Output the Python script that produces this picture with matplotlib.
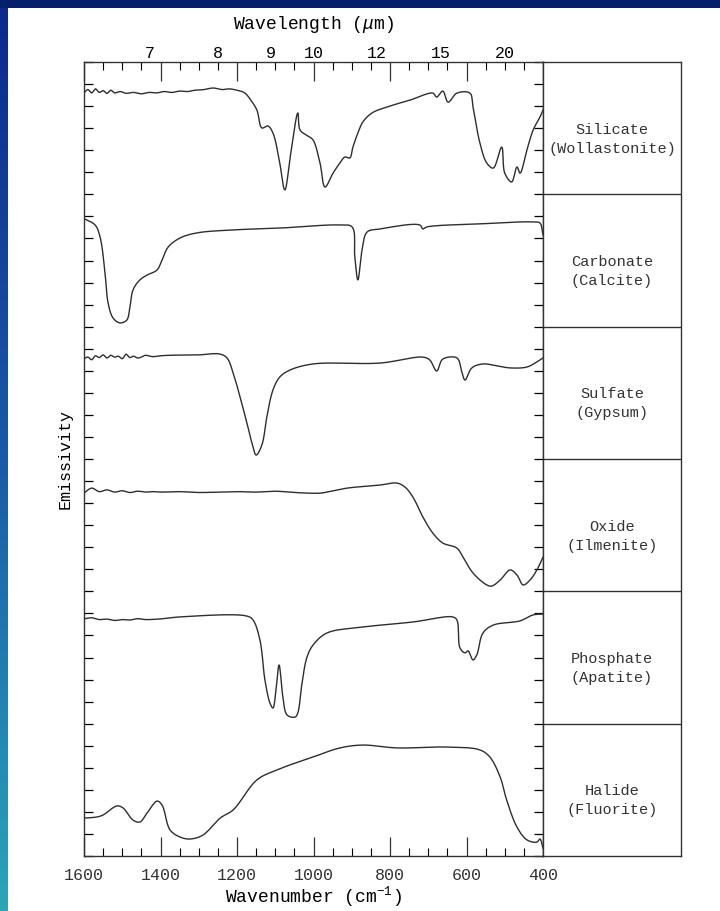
import numpy as np
import matplotlib
matplotlib.use("Agg")
import matplotlib.pyplot as plt
from matplotlib.ticker import MultipleLocator, NullFormatter
from matplotlib.colors import LinearSegmentedColormap
from matplotlib.patches import Rectangle

plt.rcParams['font.family'] = ['Liberation Mono', 'DejaVu Sans']
plt.rcParams['mathtext.fontset'] = 'custom'
plt.rcParams['mathtext.rm'] = 'Liberation Mono'
plt.rcParams['mathtext.it'] = 'Liberation Mono:italic'

# labels of the six panels, top to bottom
minerals = ['Silicate\n(Wollastonite)', 'Carbonate\n(Calcite)', 'Sulfate\n(Gypsum)',
            'Oxide\n(Ilmenite)', 'Phosphate\n(Apatite)', 'Halide\n(Fluorite)']

wavelength_ticks = [7, 8, 9, 10, 12, 15, 20]
wavenumber_ticks = [1600, 1400, 1200, 1000, 800, 600, 400]

# emissivity, in tick units above the panel bottom (0..6)
silicate_wn = [1600, 1590, 1580, 1570, 1560, 1550, 1540, 1530, 1520, 1505, 1490, 1470, 1450,
               1430, 1410, 1390, 1370, 1350, 1330, 1310, 1290, 1262, 1240, 1220, 1200, 1180,
               1165, 1148, 1135, 1119, 1106, 1090, 1075, 1060, 1041, 1035, 1014, 1001, 983,
               970, 949, 931, 918, 905, 897, 884, 871, 847, 808, 748, 688, 678, 662, 648, 625,
               591, 583, 565, 547, 530, 508, 500, 482, 468, 460, 442, 426, 408, 400]
silicate_em = [4.6, 4.75, 4.6, 4.78, 4.62, 4.7, 4.58, 4.72, 4.6, 4.66, 4.58, 4.62, 4.56,
               4.62, 4.6, 4.66, 4.62, 4.68, 4.66, 4.72, 4.74, 4.82, 4.75, 4.78, 4.72, 4.6,
               4.3, 3.82, 3.01, 3.10, 2.78, 1.6, 0.20, 1.8, 3.69, 2.91, 2.64, 2.46, 1.42,
               0.33, 0.96, 1.42, 1.69, 1.65, 2.14, 2.78, 3.28, 3.69, 3.96, 4.27, 4.59, 4.41, 4.68, 4.18, 4.59,
               4.59, 3.96, 2.33, 1.42, 1.19, 2.14, 0.96, 0.56, 1.24, 0.96, 2.01, 2.91, 3.50, 3.82]

carbonate_wn = [1600, 1571, 1558, 1545, 1537, 1524, 1506, 1488, 1480, 1472, 1454, 1435, 1409,
                1396, 1380, 1349, 1305, 1218, 1088, 931, 899, 892, 884, 873, 860, 826, 722,
                714, 704, 565, 426, 408, 400]
carbonate_em = [4.9, 4.61, 4.07, 2.43, 1.07, 0.39, 0.17, 0.30, 0.89, 1.66, 2.12, 2.34, 2.57,
                3.02, 3.61, 4.02, 4.25, 4.38, 4.47, 4.61, 4.52, 3.16, 2.12, 3.48, 4.29, 4.43, 4.61,
                4.43, 4.52, 4.66, 4.75, 4.70, 4.16]

sulfate_wn = [1600, 1590, 1580, 1570, 1560, 1550, 1540, 1530, 1520, 1510, 1500, 1490, 1480,
              1470, 1460, 1450, 1440, 1420, 1400, 1380, 1350, 1300, 1245, 1226, 1210, 1192,
              1174, 1161, 1150, 1135, 1122, 1106, 1088, 1062, 1001, 826, 714, 696, 678, 662,
              625, 612, 604, 586, 557, 520, 486, 442, 416, 400]
sulfate_em = [4.55, 4.62, 4.5, 4.68, 4.6, 4.72, 4.58, 4.7, 4.62, 4.66, 4.55, 4.75, 4.6,
              4.66, 4.58, 4.62, 4.7, 4.64, 4.68, 4.7, 4.71, 4.72, 4.76, 4.58, 3.90, 2.81,
              1.63, 0.73, 0.18, 0.63, 1.90, 3.13, 3.72, 4.03, 4.31, 4.35, 4.62, 4.49, 3.99, 4.53,
              4.58, 3.94, 3.58, 4.13, 4.31, 4.22, 4.13, 4.17, 4.40, 4.58]

oxide_wn = [1600, 1580, 1560, 1540, 1520, 1500, 1480, 1460, 1440, 1420, 1400, 1350, 1300,
            1250, 1200, 1150, 1100, 1050, 983, 965, 912, 826, 782, 761, 740, 714, 688, 662,
            625, 609, 583, 547, 534, 512, 486, 468, 452, 434, 416, 400]
oxide_em = [4.46, 4.68, 4.52, 4.6, 4.5, 4.56, 4.48, 4.54, 4.5, 4.52, 4.5, 4.52, 4.48,
            4.5, 4.52, 4.5, 4.54, 4.48, 4.45, 4.50, 4.68, 4.82, 4.91, 4.73, 4.27, 3.37, 2.64, 2.19,
            1.96, 1.55, 0.83, 0.29, 0.24, 0.51, 0.97, 0.74, 0.29, 0.51, 0.97, 1.55]

phosphate_wn = [1600, 1580, 1560, 1540, 1520, 1500, 1480, 1460, 1440, 1400, 1349, 1174, 1158,
                1140, 1127, 1114, 1106, 1098, 1090, 1080, 1069, 1048, 1041, 1030, 1017, 1001,
                965, 871, 740, 636, 625, 617, 604, 596, 583, 573, 557, 530, 460, 426, 400]
phosphate_em = [4.75, 4.8, 4.72, 4.74, 4.68, 4.72, 4.7, 4.76, 4.72, 4.75, 4.84, 4.88, 4.70,
                3.79, 1.98, 0.94, 0.71, 1.53, 2.66, 1.21, 0.39, 0.30, 0.49, 1.84, 3.02, 3.57,
                4.11, 4.38, 4.61, 4.84, 4.70, 3.43, 3.21, 3.30, 2.89, 3.12, 4.11, 4.47, 4.66, 4.93, 4.97]

halide_wn = [1600, 1566, 1550, 1514, 1498, 1472, 1454, 1435, 1409, 1396, 1375, 1349, 1323,
             1289, 1244, 1210, 1148, 1096, 1001, 931, 871, 782, 651, 565, 539, 512, 495, 468,
             442, 416, 408, 400]
halide_em = [1.72, 1.77, 1.86, 2.27, 2.18, 1.63, 1.54, 1.95, 2.49, 2.31, 1.18, 0.86, 0.77,
             0.95, 1.72, 2.09, 3.45, 3.90, 4.49, 4.90, 5.03, 4.90, 4.94, 4.81, 4.49, 3.58, 2.54, 1.31,
             0.73, 0.63, 0.77, 0.36]

spectra = [(silicate_wn, silicate_em), (carbonate_wn, carbonate_em), (sulfate_wn, sulfate_em),
           (oxide_wn, oxide_em), (phosphate_wn, phosphate_em), (halide_wn, halide_em)]


def smooth_trace(wn, em, n=12):
    # centripetal Catmull-Rom through the read points, so the trace is drawn curved
    p = np.column_stack([np.asarray(wn, float) / 1200 * 459, np.asarray(em, float) * 22])
    p = np.vstack([2 * p[0] - p[1], p, 2 * p[-1] - p[-2]])
    out = [p[1]]
    for i in range(1, len(p) - 2):
        P0, P1, P2, P3 = p[i - 1], p[i], p[i + 1], p[i + 2]
        t0 = 0.0
        t1 = t0 + np.linalg.norm(P1 - P0) ** 0.5
        t2 = t1 + np.linalg.norm(P2 - P1) ** 0.5
        t3 = t2 + np.linalg.norm(P3 - P2) ** 0.5
        for t in np.linspace(t1, t2, n)[1:]:
            A1 = (t1 - t) / (t1 - t0) * P0 + (t - t0) / (t1 - t0) * P1
            A2 = (t2 - t) / (t2 - t1) * P1 + (t - t1) / (t2 - t1) * P2
            A3 = (t3 - t) / (t3 - t2) * P2 + (t - t2) / (t3 - t2) * P3
            B1 = (t2 - t) / (t2 - t0) * A1 + (t - t0) / (t2 - t0) * A2
            B2 = (t3 - t) / (t3 - t1) * A2 + (t - t1) / (t3 - t1) * A3
            out.append((t2 - t) / (t2 - t1) * B1 + (t - t1) / (t2 - t1) * B2)
    out = np.array(out)
    return out[:, 0] * 1200 / 459, out[:, 1] / 22


W, H = 720, 911
fig = plt.figure(figsize=(W / 100, H / 100), dpi=100)
fig.patch.set_facecolor('#03216a')

# white page with a gradient strip on the left
fig.add_artist(Rectangle((8 / W, 0), 1 - 8 / W, 1 - 8 / H, transform=fig.transFigure,
                         facecolor='white', edgecolor='none', zorder=0))
strip = fig.add_axes([0, 0, 8 / W, 1 - 8 / H])
cmap = LinearSegmentedColormap.from_list('edge', ['#0b2a8c', '#1a5aa8', '#2aa6b8'])
strip.imshow(np.linspace(0, 1, 256).reshape(-1, 1), aspect='auto', cmap=cmap)
strip.axis('off')

x0, x1, y0, y1 = 84, 543, 62, 856
ax = fig.add_axes([x0 / W, 1 - y1 / H, (x1 - x0) / W, (y1 - y0) / H])
axr = fig.add_axes([x1 / W, 1 - y1 / H, (681 - x1) / W, (y1 - y0) / H])

line_col = '#2e2e2e'
for k, (wn, em) in enumerate(spectra):
    offset = 30 - 6 * k
    xs, ys = smooth_trace(wn, em)
    ax.plot(xs, ys + offset, color=line_col, lw=1.0)

ax.set_xlim(1600, 400)
ax.set_ylim(0, 36)
ax.set_xticks(wavenumber_ticks)
ax.xaxis.set_minor_locator(MultipleLocator(50))
ax.yaxis.set_major_locator(MultipleLocator(1))
ax.yaxis.set_major_formatter(NullFormatter())
ax.tick_params(axis='x', which='major', direction='in', length=13.5, width=0.9,
               top=True, bottom=True, labelsize=12, pad=9, colors='#333333')
ax.tick_params(axis='x', which='minor', direction='in', length=5.5, width=0.8,
               top=True, bottom=True)
ax.tick_params(axis='y', which='major', direction='in', length=6.5, width=0.9,
               left=True, right=True)
for s in ax.spines.values():
    s.set_color('#333333')
    s.set_linewidth(1.0)
ax.set_xlabel('Wavenumber (cm$^{-1}$)', fontsize=13, labelpad=1)
ax.set_ylabel('Emissivity', fontsize=12, labelpad=5)

# wavelength scale on top
ax2 = ax.twiny()
ax2.set_xlim(ax.get_xlim())
ax2.set_xticks([10000 / w for w in wavelength_ticks])
ax2.set_xticklabels([str(w) for w in wavelength_ticks])
ax2.tick_params(axis='x', length=0, pad=1, labelsize=12)
ax2.minorticks_off()
for s in ax2.spines.values():
    s.set_visible(False)
ax2.set_xlabel('Wavelength ($\\mu$m)', fontsize=13, labelpad=12)
ax.tick_params(axis='x', which='both', top=True)

# label panel on the right
axr.set_xlim(0, 1)
axr.set_ylim(0, 36)
axr.set_xticks([])
axr.set_yticks([])
for s in axr.spines.values():
    s.set_color('#333333')
    s.set_linewidth(1.0)
for k, name in enumerate(minerals):
    top = 36 - 6 * k
    if k > 0:
        axr.axhline(top, color='#333333', lw=1.0)
    axr.text(0.5, top - 3.5, name, ha='center', va='center', fontsize=11,
             linespacing=1.45, color='#333333')

fig.savefig('out.png', dpi=100, facecolor=fig.get_facecolor())
